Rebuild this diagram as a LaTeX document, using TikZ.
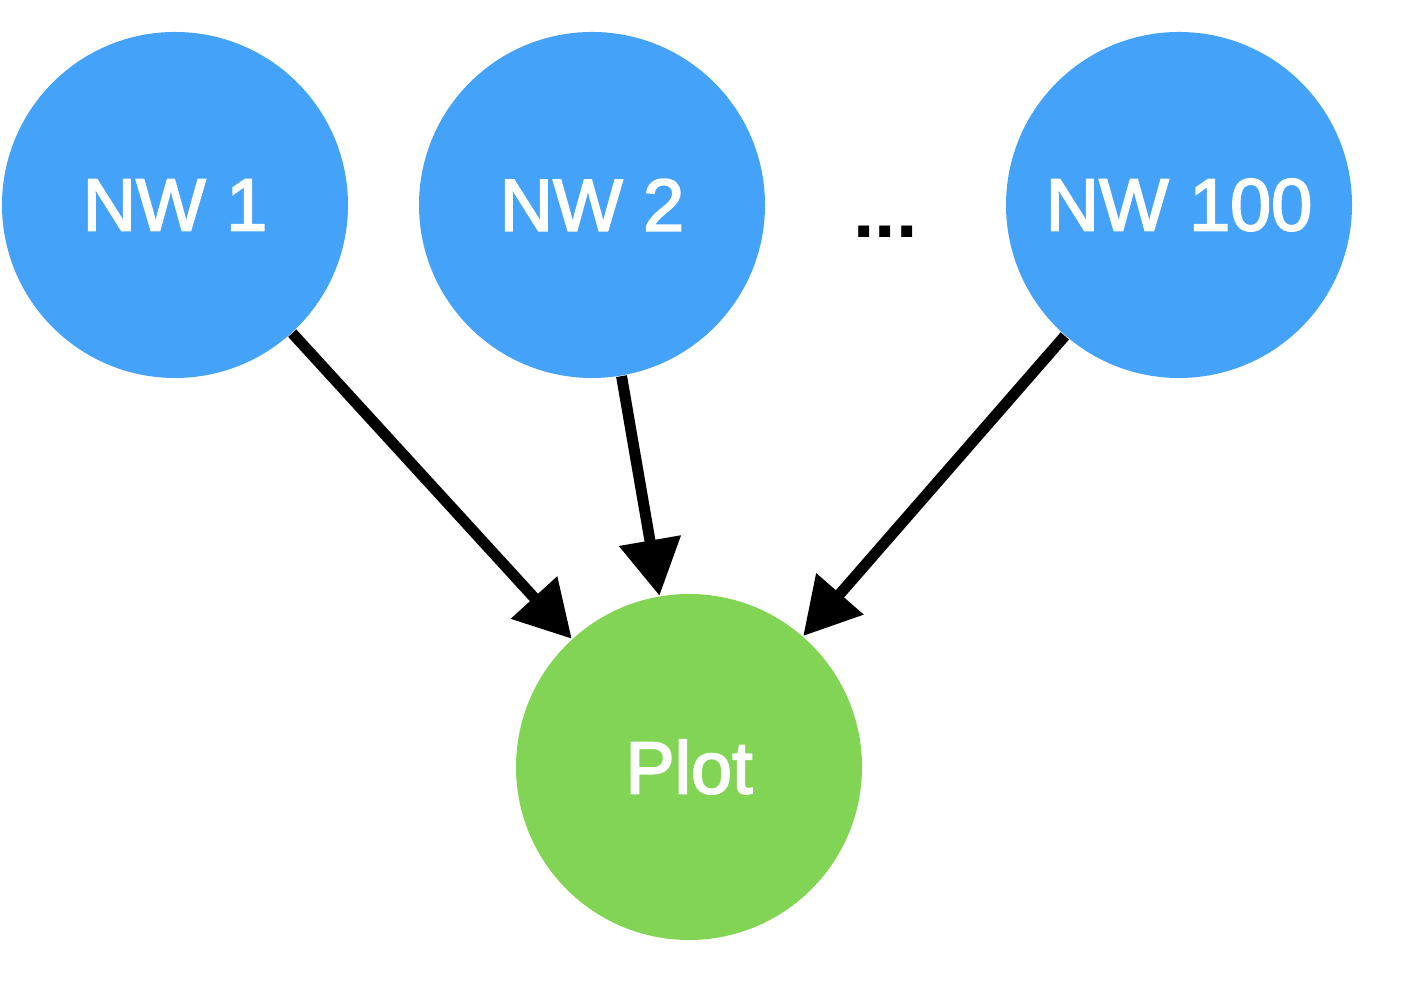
\documentclass[tikz,border=0pt]{standalone}
\usepackage{fontspec}
\setmainfont{Liberation Sans}
\usetikzlibrary{arrows.meta}
\definecolor{nwblue}{HTML}{44A2F8}
\definecolor{plotgreen}{HTML}{82D454}
\newcommand{\labelfont}{\fontsize{21}{26}\selectfont\addfontfeature{FakeBold=2.5}}
\tikzset{
  nwnode/.style={circle, fill=nwblue, minimum size=3.46cm, inner sep=0pt, text=white, font=\labelfont},
  plotnode/.style={circle, fill=plotgreen, minimum size=3.46cm, inner sep=0pt, text=white, font=\labelfont},
  conn/.style={line width=0.11cm, -{Triangle[length=0.56cm, width=0.6cm]}}
}
\begin{document}
\begin{tikzpicture}
\useasboundingbox (0,0) rectangle (14.04,9.94);
\node[nwnode] (nw1) at (1.75,7.89) {NW 1};
\node[nwnode] (nw2) at (5.92,7.89) {NW 2};
\node[nwnode] (nw100) at (11.79,7.89) {NW 100};
\node[plotnode] (plot) at (6.89,2.27) {Plot};
\node[font=\fontsize{21.9}{26}\selectfont\bfseries] (dots) at (8.855,7.62) {...};
\draw[conn] (nw1) -- (plot);
\draw[conn] (nw2) -- (plot);
\draw[conn] (nw100) -- (plot);
\end{tikzpicture}
\end{document}
